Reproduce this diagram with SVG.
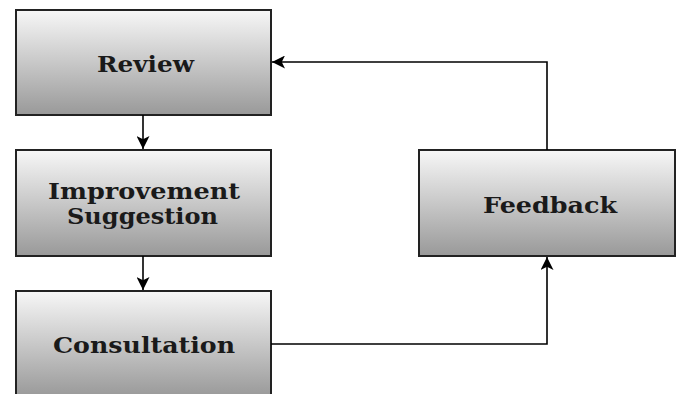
<svg xmlns="http://www.w3.org/2000/svg" width="679" height="394" viewBox="0 0 679 394">
<defs>
<linearGradient id="g" x1="0" y1="0" x2="0" y2="1">
<stop offset="0" stop-color="#f7f7f7"/>
<stop offset="1" stop-color="#999999"/>
</linearGradient>
<marker id="ah" viewBox="0 0 12 12" refX="12" refY="6" markerWidth="13" markerHeight="13" markerUnits="userSpaceOnUse" orient="auto">
<path d="M0,0 L12,6 L0,12 L3,6 z" fill="#000"/>
</marker>
<style>
.box{fill:url(#g);stroke:#222;stroke-width:2}
.lbl{font-family:"DejaVu Serif","Liberation Serif",serif;font-weight:bold;font-size:23px;fill:#1a1a1a;text-anchor:middle}
.con{fill:none;stroke:#000;stroke-width:1.6;marker-end:url(#ah)}
</style>
</defs>
<rect width="679" height="394" fill="#fff"/>
<g id="review">
<rect class="box" x="16" y="10" width="255" height="105"/>
<text class="lbl" x="145.5" y="72" textLength="97" lengthAdjust="spacingAndGlyphs">Review</text>
</g>
<g id="improvement">
<rect class="box" x="16" y="150" width="255" height="106"/>
<text class="lbl" x="144" y="199" textLength="192" lengthAdjust="spacingAndGlyphs">Improvement</text>
<text class="lbl" x="142.5" y="224" textLength="151" lengthAdjust="spacingAndGlyphs">Suggestion</text>
</g>
<g id="consultation">
<rect class="box" x="16" y="291" width="255" height="106"/>
<text class="lbl" x="144" y="353" textLength="182" lengthAdjust="spacingAndGlyphs">Consultation</text>
</g>
<g id="feedback">
<rect class="box" x="419" y="150" width="256" height="106"/>
<text class="lbl" x="550" y="213" textLength="134" lengthAdjust="spacingAndGlyphs">Feedback</text>
</g>
<g id="connectors">
<path class="con" d="M143,115 L143,149"/>
<path class="con" d="M143,256 L143,290"/>
<path class="con" d="M271,344 L547,344 L547,257"/>
<path class="con" d="M547,150 L547,62 L272,62"/>
</g>
</svg>
